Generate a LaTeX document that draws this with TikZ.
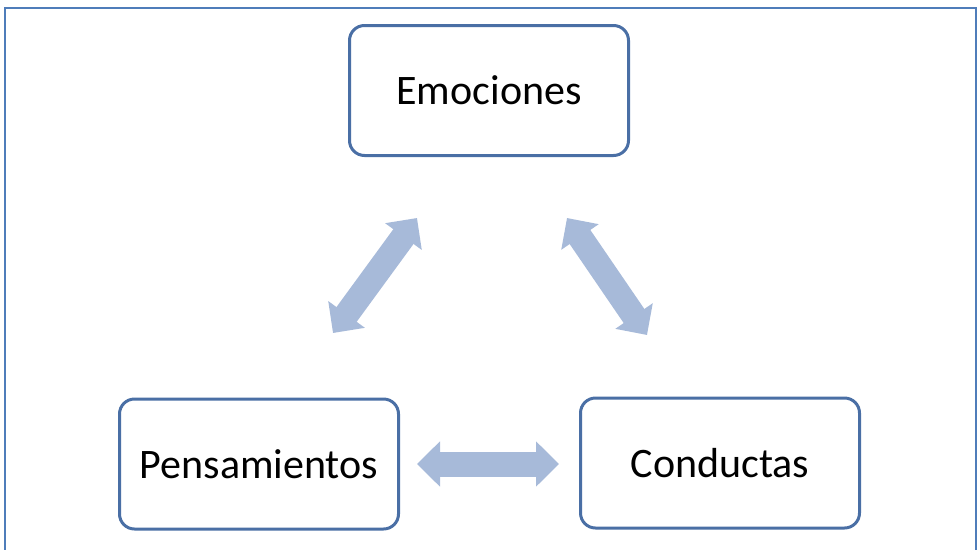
\documentclass[tikz,border=0pt]{standalone}
\usepackage{fontspec}
\setmainfont{Carlito}
\usetikzlibrary{arrows.meta}
\definecolor{boxblue}{HTML}{4A6FA5}
\definecolor{frameblue}{HTML}{4F7DBA}
\definecolor{arrowblue}{HTML}{A7BAD9}
\tikzset{cajita/.style={draw=boxblue, line width=3pt, rounded corners=15pt, fill=white, minimum width=279pt, minimum height=130pt, font=\fontsize{42}{50}\selectfont, text=black}, flecha/.style={draw=arrowblue, line width=25pt, {Triangle[width=44pt,length=23pt]}-{Triangle[width=44pt,length=23pt]}}}

\begin{document}
\begin{tikzpicture}[x=1pt,y=-1pt]
   \useasboundingbox (0,0) rectangle (979,549);
   \begin{scope}
    \clip (0,0) rectangle (979,549);
    \draw[frameblue, line width=2pt] (5,8) rectangle (976,570);
   \end{scope}
   % boxes
   \node[cajita] (emo)  at (489,90.5) {Emociones};
   \node[cajita] (pens) at (259,464)  {Pensamientos};
   \node[cajita] (cond) at (720,463)  {Conductas};
   % arrow ends
   \coordinate (emoL)  at (417,218);
   \coordinate (pensT) at (333,333);
   \coordinate (emoR)  at (567,218);
   \coordinate (condT) at (647,335);
   \draw[flecha] (pensT) -- (emoL);
   \draw[flecha] (emoR) -- (condT);
   \draw[flecha, shorten <=17pt, shorten >=20pt] (pens.east) -- (pens.east -| cond.west);
  \end{tikzpicture}
\end{document}
